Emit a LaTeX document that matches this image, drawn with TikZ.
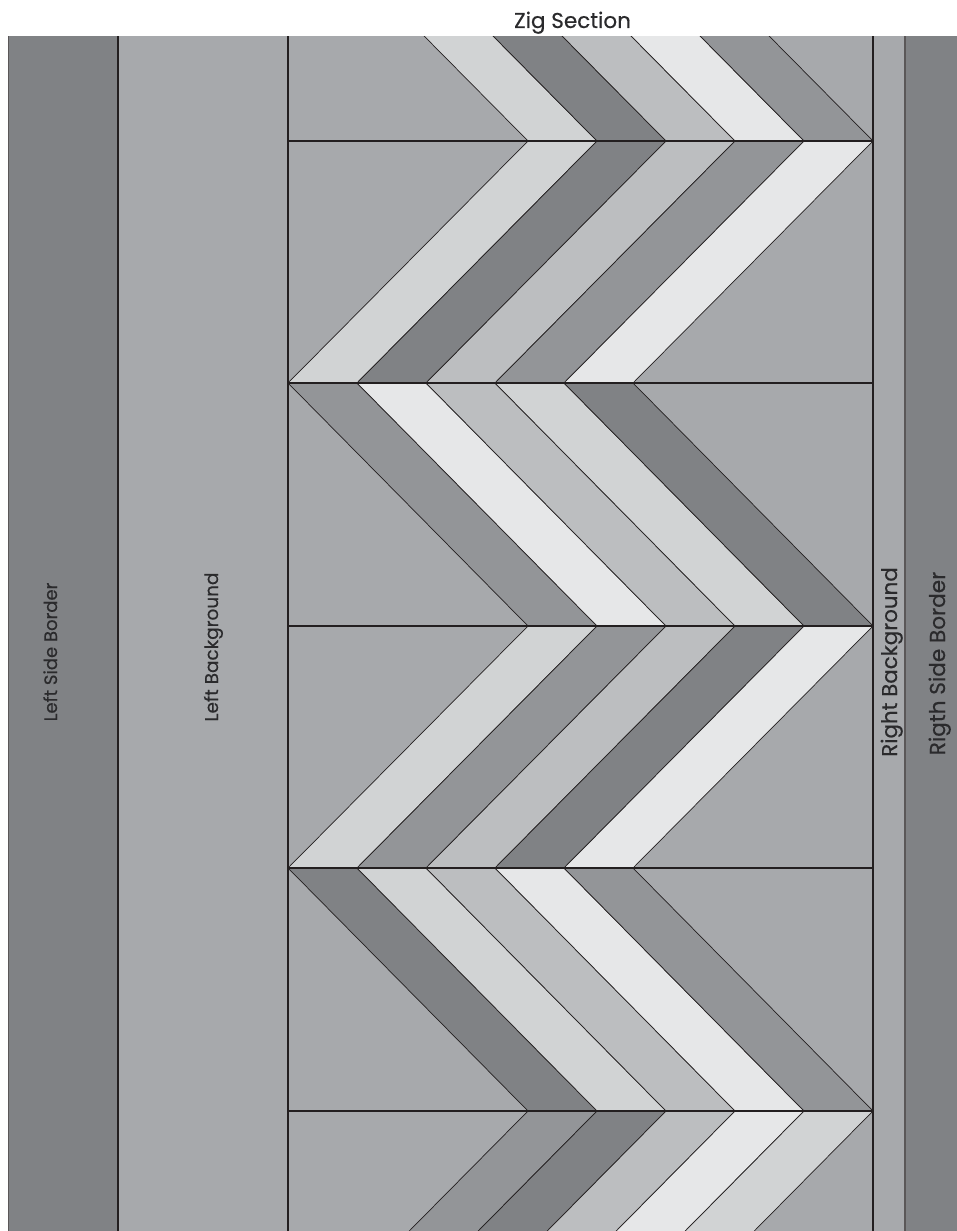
\documentclass[tikz,border=0pt]{standalone}
\usepackage{fontspec}
\setmainfont{Poppins}
\newfontfamily\lblfont{Poppins}[FakeBold=0.4]
\definecolor{cDk}{HTML}{808285}
\definecolor{cMd}{HTML}{939598}
\definecolor{cBg}{HTML}{A7A9AC}
\definecolor{cML}{HTML}{BCBEC0}
\definecolor{cLt}{HTML}{D1D3D4}
\definecolor{cVL}{HTML}{E6E7E8}
\definecolor{cInk}{HTML}{231F20}
\definecolor{cTxt}{HTML}{2A2A2C}
\tikzset{
  stripline/.style={draw=cInk,line width=0.7pt,line join=miter},
  rowline/.style={draw=cInk,line width=1.1pt},
  heavyline/.style={draw=cInk,line width=1.8pt},
  edgeline/.style={draw=cInk!75,line width=1.2pt},
  sidelabel/.style={rotate=90,anchor=base,text=cTxt,inner sep=0pt},
}
\newcommand{\zzrow}[5]{%
  \foreach \k/\c in {#5}{%
    \filldraw[fill=\c,stripline] ({#3+\k*69},#1) -- ({#3+(\k+1)*69},#1)
      -- ({#4+(\k+1)*69},#2) -- ({#4+\k*69},#2) -- cycle;}}
\begin{document}
\begin{tikzpicture}[x=1pt,y=-1pt]
\useasboundingbox (0,0) rectangle (957,1231);
\begin{scope}
  \clip (0,37) rectangle (957,1231);
  % side panels
  \fill[cDk] (8.5,30) rectangle (118,1240);
  \fill[cBg] (118,30) rectangle (288,1240);
  \fill[cBg] (288,30) rectangle (873,1240);
  \fill[cBg] (873,30) rectangle (905,1240);
  \fill[cDk] (905,30) rectangle (957,1240);
  % zig strips
  \zzrow{-101.5}{141}{288}{528}{0/cLt,1/cDk,2/cML,3/cVL,4/cMd}
  \zzrow{141}{383}{528}{288}{0/cLt,1/cDk,2/cML,3/cMd,4/cVL}
  \zzrow{383}{626}{288}{528}{0/cMd,1/cVL,2/cML,3/cLt,4/cDk}
  \zzrow{626}{868}{528}{288}{0/cLt,1/cMd,2/cML,3/cDk,4/cVL}
  \zzrow{868}{1111}{288}{528}{0/cDk,1/cLt,2/cML,3/cVL,4/cMd}
  \zzrow{1111}{1353.5}{528}{288}{0/cMd,1/cDk,2/cML,3/cVL,4/cLt}
  % row lines
  \draw[rowline] (288,141) -- (873,141);
  \draw[rowline] (288,626) -- (873,626);
  \draw[rowline] (288,868) -- (873,868);
  \draw[rowline] (288,1111) -- (873,1111);
  \draw[rowline] (873,383) -- (873,1240);
  % heavy outline of the top block
  \draw[heavyline] (288,141) -- (528,141);
  \draw[heavyline] (288,383) -- (873,383);
  \draw[heavyline] (873,30) -- (873,383);
  \draw[heavyline] (288,30) -- (288,1240);
  \draw[heavyline] (118,30) -- (118,1240);
  \draw[edgeline] (8.5,30) -- (8.5,1240);
  \draw[edgeline] (905,30) -- (905,1240);
\end{scope}
% labels
\node[text=cTxt,anchor=base,font=\lblfont\fontsize{21.5}{24}\selectfont] (title) at (572.5,28) {Zig Section};
\node[sidelabel,font=\lblfont\fontsize{18}{21}\selectfont] (lsb) at (57,652) {Left Side Border};
\node[sidelabel,font=\lblfont\fontsize{18.45}{21}\selectfont] (lbg) at (218,647) {Left Background};
\node[sidelabel,font=\lblfont\fontsize{21.4}{24}\selectfont] (rbg) at (897,662) {Right Background};
\node[sidelabel,font=\lblfont\fontsize{21.6}{24}\selectfont] (rsb) at (945,663.5) {Rigth Side Border};
\end{tikzpicture}
\end{document}
